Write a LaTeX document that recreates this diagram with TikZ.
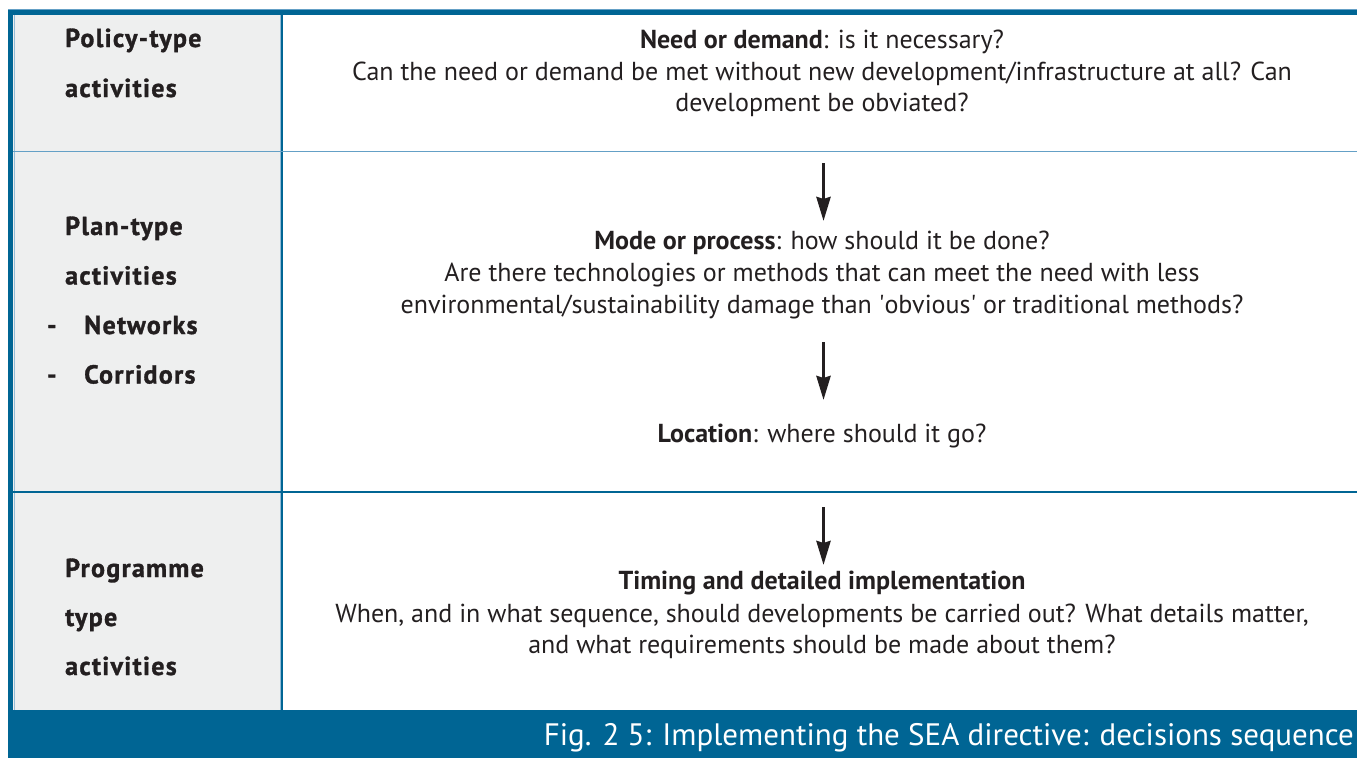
\documentclass[tikz,border=0pt]{standalone}
\usepackage{fontspec}
\setmainfont{PT Sans}
\newfontfamily\headfont[LetterSpace=5,BoldFeatures={FakeBold=1.2}]{PT Sans}
\usetikzlibrary{arrows.meta}
\definecolor{seablue}{RGB}{0,101,148}
\definecolor{lineblue}{RGB}{100,160,198}
\definecolor{cellgray}{RGB}{238,239,239}
\definecolor{txt}{RGB}{35,31,32}
\begin{document}
\begin{tikzpicture}[x=1pt,y=-1pt,
  body/.style={font=\fontsize{26}{31}\selectfont, text=txt, inner sep=0pt, anchor=base},
  bodyb/.style={body, font=\fontsize{26}{31}\selectfont\bfseries},
  head/.style={font=\fontsize{26}{30}\headfont\bfseries, text=txt, inner sep=0pt, anchor=base west},
  captext/.style={font=\fontsize{31}{36}\selectfont, text=white, inner sep=0pt, anchor=base east},
  arr/.style={-{Stealth[length=24pt,width=14pt,inset=2pt]}, line width=3.5pt, draw=txt}
]
\useasboundingbox (0,0) rectangle (1357,758);
% frame and cells
\fill[cellgray] (13,15) rectangle (281,710);
\draw[lineblue, line width=1pt] (8,9.5) -- (1357,9.5);
\fill[seablue] (8,10) rectangle (1357,15);
\fill[seablue] (8,10) rectangle (13,710);
\draw[lineblue!70, line width=0.8pt] (14,15) -- (14,710);
\draw[lineblue!70, line width=0.8pt] (280,15) -- (280,710);
\draw[seablue, line width=2pt] (282,15) -- (282,710);
\draw[lineblue, line width=1.5pt] (13,151.5) -- (1357,151.5);
\draw[seablue, line width=1.5pt] (13,492) -- (1357,492);
\fill[seablue] (8,710) rectangle (1357,758);

% left column
\node[head] (pol1) at (65,47) {Policy-type};
\node[head] (pol2) at (65,97) {activities};
\node[head] (pla1) at (65,235) {Plan-type};
\node[head] (pla2) at (65,284.5) {activities};
\node[head] (pla3d) at (47,334) {-};
\node[head] (pla3) at (84,334) {Networks};
\node[head] (pla4d) at (47,383.5) {-};
\node[head] (pla4) at (84,383.5) {Corridors};
\node[head] (pro1) at (65,577) {Programme};
\node[head] (pro2) at (65,626) {type};
\node[head] (pro3) at (65,675) {activities};

% right column
\node[body] (need1) at (822,48) {\textbf{Need or demand}: is it necessary?};
\node[body] (need2) at (822,80) {Can the need or demand be met without new development/infrastructure at all? Can};
\node[body] (need3) at (822,111) {development be obviated?};

\node[body] (mode1) at (822,249) {\textbf{Mode or process}: how should it be done?};
\node[body] (mode2) at (822,281) {Are there technologies or methods that can meet the need with less};
\node[body] (mode3) at (822,313) {environmental/sustainability damage than \textquotesingle obvious\textquotesingle{} or traditional methods?};

\node[body] (loc) at (822,442) {\textbf{Location}: where should it go?};

\node[bodyb] (tim1) at (822,589) {Timing and detailed implementation};
\node[body] (tim2) at (822,622) {When, and in what sequence, should developments be carried out? What details matter,};
\node[body] (tim3) at (822,653) {and what requirements should be made about them?};

% arrows
\coordinate (a1s) at (823.5,163);
\coordinate (a1e) at (823.5,221);
\coordinate (a2s) at (823.5,342);
\coordinate (a2e) at (823.5,400);
\coordinate (a3s) at (823.5,507);
\coordinate (a3e) at (823.5,565);
\draw[arr] (a1s) -- (a1e);
\draw[arr] (a2s) -- (a2e);
\draw[arr] (a3s) -- (a3e);

% caption
\node[captext] (caption) at (1354,745) {Fig. 2 5: Implementing the SEA directive: decisions sequence};
\end{tikzpicture}
\end{document}
